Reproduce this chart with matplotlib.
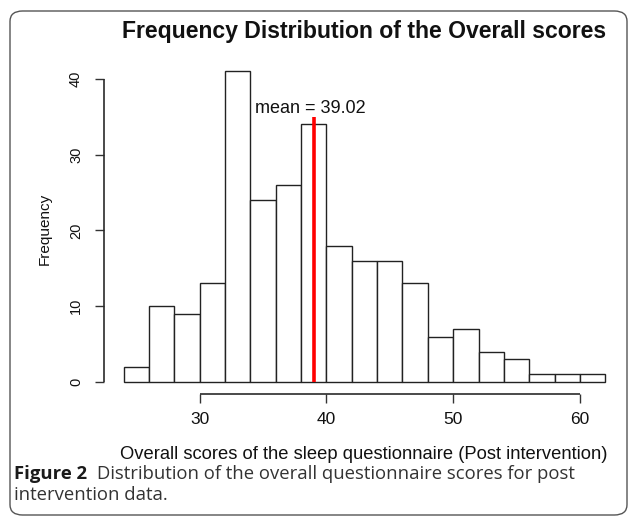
import matplotlib
matplotlib.use("Agg")
import matplotlib.pyplot as plt
from matplotlib.patches import FancyBboxPatch
import numpy as np

bin_edges = [24, 26, 28, 30, 32, 34, 36, 38, 40, 42, 44, 46, 48, 50, 52, 54, 56, 58, 60, 62]
counts = [2, 10, 9, 13, 41, 24, 26, 34, 18, 16, 16, 13, 6, 7, 4, 3, 1, 1, 1]
mean_val = 39.02
x_ticks = [30, 40, 50, 60]
y_ticks = [0, 10, 20, 30, 40]

W, H = 629, 517
fig = plt.figure(figsize=(W / 100, H / 100), dpi=100)

# R-style plot region (4% padding beyond data range)
xpx = 12.68   # px per x unit
ypx = 7.58    # px per y unit
xlo, xhi = 24 - 0.04 * 38, 62 + 0.04 * 38
ylo, yhi = -0.04 * 41, 41 * 1.04
left_px = 123.5 - (24 - xlo) * xpx
right_px = 123.5 + (xhi - 24) * xpx
bottom_px = 382.0 + (0 - ylo) * ypx
top_px = 382.0 - yhi * ypx
ax = fig.add_axes([left_px / W, 1 - bottom_px / H, (right_px - left_px) / W,
                   (bottom_px - top_px) / H])
ax.set_xlim(xlo, xhi)
ax.set_ylim(ylo, yhi)
ax.patch.set_visible(False)

lefts = np.array(bin_edges[:-1])
widths = np.diff(bin_edges)
ax.bar(lefts, counts, width=widths, align='edge', facecolor='white',
       edgecolor='#222222', linewidth=1.0)
ax.plot([mean_val, mean_val], [0, 35], color='#ff0000', linewidth=2.6, solid_capstyle='butt')
ax.text(38.7, 36.1, "mean = 39.02", ha='center', va='center', fontsize=13,
        family='Liberation Sans', color='#111111')

# axis lines (R style, spanning the first to last tick)
ax.plot([x_ticks[0], x_ticks[-1]], [ylo, ylo], color='#2a2a2a', linewidth=1.2,
        clip_on=False, zorder=6, solid_capstyle='butt')
ax.plot([xlo, xlo], [y_ticks[0], y_ticks[-1]], color='#2a2a2a', linewidth=1.2,
        clip_on=False, zorder=6, solid_capstyle='butt')
for s in ['top', 'right', 'left', 'bottom']:
    ax.spines[s].set_visible(False)
ax.set_xticks(x_ticks)
ax.set_yticks(y_ticks)
ax.tick_params(axis='both', length=6.2, width=1.0, color='#333333',
               labelcolor='#111111')
ax.tick_params(axis='x', pad=6.5, labelsize=12.5)
ax.tick_params(axis='y', pad=9, labelsize=10.5)
for lab in ax.get_yticklabels():
    lab.set_rotation(90)
    lab.set_va('center')
    lab.set_family('Liberation Sans')
for lab in ax.get_xticklabels():
    lab.set_family('Liberation Sans')

fig.text(45 / W, 1 - 229 / H, "Frequency", rotation=90, ha='center', va='center',
         fontsize=11, family='Liberation Sans', color='#111111')
fig.text(364 / W, 1 - 459 / H, "Overall scores of the sleep questionnaire (Post intervention)",
         ha='center', va='baseline', fontsize=13.2, family='Liberation Sans', color='#111111')
fig.text(364 / W, 1 - 38 / H, "Frequency Distribution of the Overall scores",
         ha='center', va='baseline', fontsize=16.6, fontweight='bold',
         family='Liberation Sans', color='#111111')

# caption
fig.text(14 / W, 1 - 479 / H, "Figure 2", ha='left', va='baseline', fontsize=13.3,
         fontweight='bold', family='Open Sans', color='#1a1a1a')
fig.text(97 / W, 1 - 479 / H, "Distribution of the overall questionnaire scores for post",
         ha='left', va='baseline', fontsize=13.3, family='Open Sans', color='#333333')
fig.text(14 / W, 1 - 500 / H, "intervention data.", ha='left', va='baseline', fontsize=13.3,
         family='Open Sans', color='#333333')

frame = FancyBboxPatch((10 / W, 2 / H), (627 - 10) / W, (1 - 13 / H),
                       boxstyle="round,pad=0,rounding_size=0.02",
                       transform=fig.transFigure, facecolor='none',
                       edgecolor='#555555', linewidth=1.0)
fig.patches.append(frame)

fig.savefig("out.png", dpi=100)
